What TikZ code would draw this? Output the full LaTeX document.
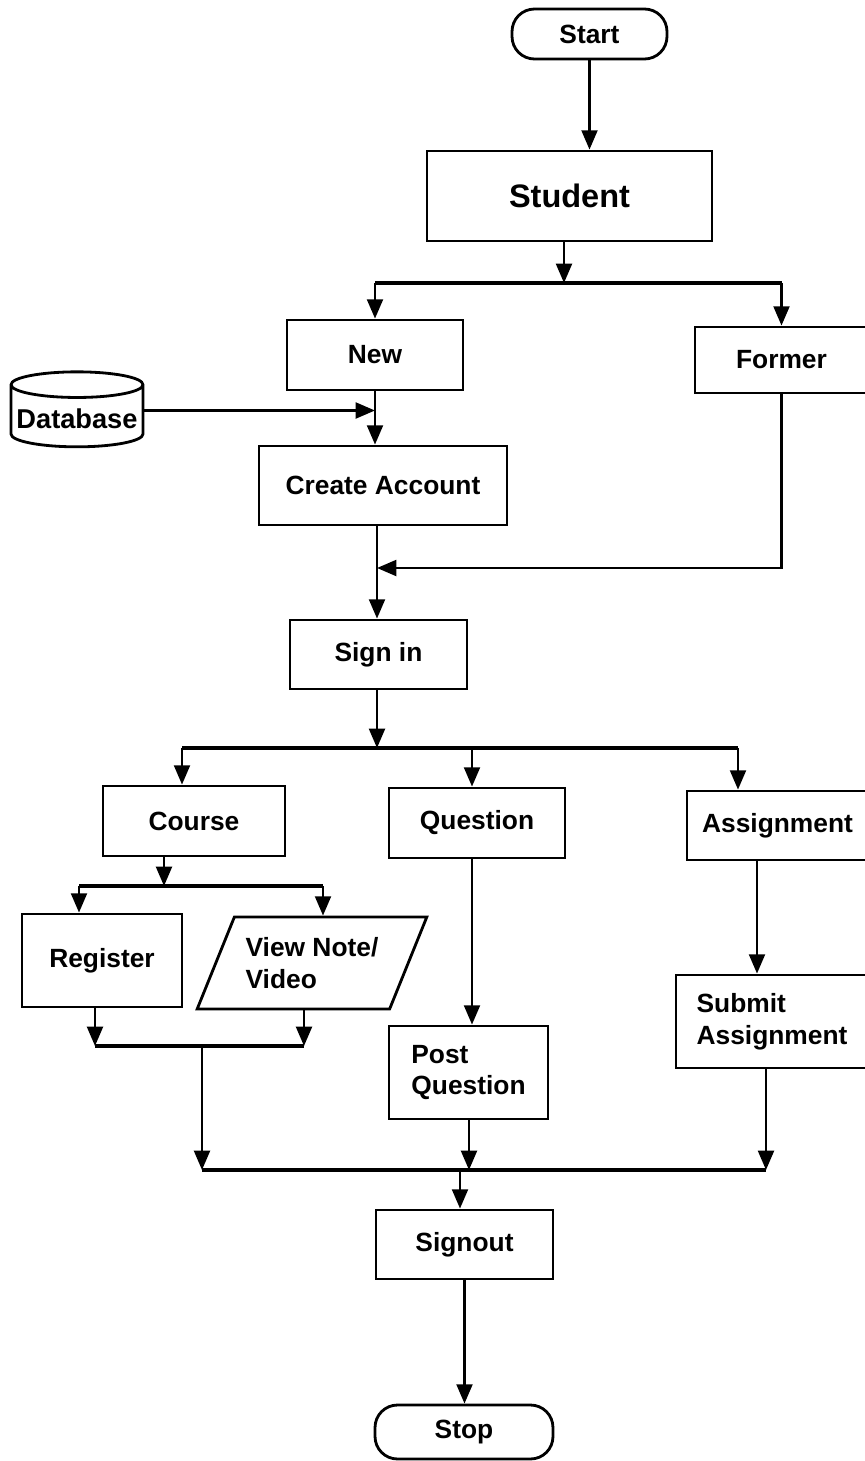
\documentclass[tikz,border=0pt]{standalone}
\usepackage{fontspec}
\setmainfont{Liberation Sans}
\usetikzlibrary{arrows.meta, shapes.geometric}

\begin{document}
\begin{tikzpicture}[x=0.02cm, y=-0.02cm,
  box/.style={draw, rectangle, line width=1.6pt, align=center, inner sep=2pt,
              font=\bfseries\fontsize{15}{18}\selectfont},
  term/.style={box, rounded corners=0.45cm},
  data/.style={box, cylinder, shape border rotate=90, aspect=0.2},
  io/.style={box, trapezium, trapezium left angle=60, trapezium right angle=120,
             trapezium stretches=true, align=left},
  arr/.style={-{Triangle[length=11pt,width=9pt]}, line width=1.5pt},
  link/.style={line width=2pt},
]
\useasboundingbox (0,0) rectangle (865,1461);

%% Boxes, top to bottom
\node[term, minimum width=3.1cm, minimum height=1cm] (start) at (589.5,34) {Start};
\node[box, minimum width=5.7cm, minimum height=1.8cm,
      font=\bfseries\fontsize{18.5}{22}\selectfont] (student) at (569.5,196) {Student};
\node[box, minimum width=3.52cm, minimum height=1.4cm] (new) at (375,355) {New};
\node[box, minimum width=3.46cm, minimum height=1.32cm] (former) at (781.5,360) {Former};
\node[data, minimum width=2.64cm, minimum height=1.5cm,
      font=\bfseries\fontsize{15.5}{18}\selectfont] (db) at (77,418.5) {Database};
\node[box, minimum width=4.96cm, minimum height=1.58cm] (create) at (383,485.5) {Create Account};
\node[box, minimum width=3.54cm, minimum height=1.38cm] (signin) at (378.5,654.5) {Sign in};
\node[box, minimum width=3.64cm, minimum height=1.4cm] (course) at (194,821) {Course};
\node[box, minimum width=3.52cm, minimum height=1.4cm] (question) at (477,823) {Question};
\node[box, minimum width=3.62cm, minimum height=1.38cm] (assign) at (777.5,825.5) {Assignment};
\node[box, minimum width=3.2cm, minimum height=1.86cm] (register) at (102,960.5) {Register};
\node[io, minimum width=4.6cm, minimum height=1.84cm] (view) at (312,963) {View Note/\\Video};
\node[box, align=left, minimum width=3.18cm, minimum height=1.86cm] (postq) at (468.5,1072.5) {Post\\Question};
\node[box, align=left, minimum width=3.84cm, minimum height=1.86cm] (submit) at (772,1021.5) {Submit\\Assignment};
\node[box, minimum width=3.54cm, minimum height=1.38cm] (signout) at (464.5,1244.5) {Signout};
\node[term, minimum width=3.56cm, minimum height=1.08cm] (stop) at (464,1432) {Stop};

%% Branch and merge points
\coordinate (split1) at (564,283);
\coordinate (merge1) at (377,568);
\coordinate (split2) at (377,748);
\coordinate (d1) at (182,748);
\coordinate (d2) at (472,748);
\coordinate (d3) at (738,748);
\coordinate (split3) at (164,886);
\coordinate (d4) at (79,886);
\coordinate (d5) at (323,886);
\coordinate (j1) at (95,1046);
\coordinate (j2) at (304,1046);
\coordinate (join1) at (202,1046);
\coordinate (q1) at (757,860);
\coordinate (j3) at (202,1170);
\coordinate (j4) at (469,1170);
\coordinate (j5) at (766,1170);
\coordinate (join2) at (460,1170);

%% Connectors
\draw[arr] (start.south) -- (start.south |- student.north);
\draw[arr] (split1 |- student.south) -- (split1);
\draw[link] (new.north |- split1) -- (former.north |- split1);
\draw[arr] (new.north |- split1) -- (new.north);
\draw[arr] (former.north |- split1) -- (former.north);
\draw[arr] ([yshift=0.16cm]db.east) -- ([yshift=0.16cm]db.east -| new.south);
\draw[arr] (new.south) -- (new.south |- create.north);
\draw[arr] (merge1 |- create.south) -- (merge1 |- signin.north);
\draw[arr] (former.south) |- (merge1);

\draw[arr] (split2 |- signin.south) -- (split2);
\draw[link] (d1) -- (d3);
\draw[arr] (d1) -- (d1 |- course.north);
\draw[arr] (d2) -- (d2 |- question.north);
\draw[arr] (d3) -- (d3 |- assign.north);

\draw[arr] (split3 |- course.south) -- (split3);
\draw[link] (d4) -- (d5);
\draw[arr] (d4) -- (d4 |- register.north);
\draw[arr] (d5) -- (d5 |- view.north);
\draw[arr] (j1 |- register.south) -- (j1);
\draw[arr] (j2 |- view.south) -- (j2);
\draw[link] (j1) -- (j2);
\draw[arr] (join1) -- (j3);

\draw[arr] (d2 |- question.south) -- (d2 |- postq.north);
\draw[arr] (q1 |- assign.south) -- (q1 |- submit.north);
\draw[arr] (j4 |- postq.south) -- (j4);
\draw[arr] (j5 |- submit.south) -- (j5);
\draw[link] (j3) -- (j5);
\draw[arr] (join2) -- (join2 |- signout.north);
\draw[arr] (signout.south) -- (signout.south |- stop.north);
\end{tikzpicture}
\end{document}
